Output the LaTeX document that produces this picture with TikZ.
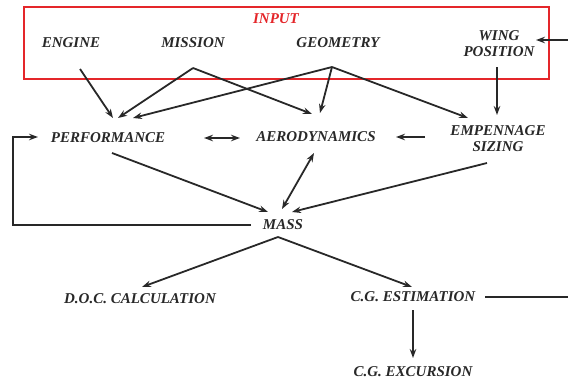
\documentclass[tikz,border=0pt]{standalone}
\usepackage{fontspec}
\setmainfont{Liberation Serif}
\usetikzlibrary{arrows.meta}
\definecolor{inred}{RGB}{228,38,42}
\definecolor{ink}{RGB}{40,40,40}
\tikzset{
  lbl/.style={font=\fontsize{15}{16}\selectfont\bfseries\itshape, text=ink, align=center, inner sep=1pt},
  tip/.style={},
  conn/.style={draw=ink, line width=1.8pt, -{Stealth[length=9pt,width=6.5pt]}},
  dconn/.style={draw=ink, line width=1.8pt, {Stealth[length=9pt,width=6.5pt]}-{Stealth[length=9pt,width=6.5pt]}},
  plain/.style={draw=ink, line width=1.8pt},
}
\begin{document}
\begin{tikzpicture}[x=1pt,y=-1pt]
\useasboundingbox (0,0) rectangle (568,380);
\draw[inred, line width=1.6pt] (24,7) rectangle (549,79);
\node[lbl, text=inred] (input) at (276,19) {INPUT};
\node[lbl] (engine) at (71,43) {ENGINE};
\node[lbl] (mission) at (193,43) {MISSION};
\node[lbl] (geometry) at (338,43) {GEOMETRY};
\node[lbl] (wing) at (499,44) {WING\\POSITION};
\node[lbl] (perf) at (108,138) {PERFORMANCE};
\node[lbl] (aero) at (316,137) {AERODYNAMICS};
\node[lbl] (emp) at (498,139) {EMPENNAGE\\SIZING};
\node[lbl] (mass) at (283,225) {MASS};
\node[lbl] (doc) at (140,299) {D.O.C. CALCULATION};
\node[lbl] (cge) at (413,297) {C.G. ESTIMATION};
\node[lbl] (cgx) at (413,372) {C.G. EXCURSION};

\coordinate (mis0) at (193,68);
\coordinate (geo0) at (332,67);
\coordinate (mass0) at (278,237);
\coordinate (rin) at (568,40);
\coordinate (win) at (536,40);
\coordinate (rout) at (568,297);

\draw[conn] (80,69) -- (113,118);
\draw[conn] (mis0) -- (118,118);
\draw[conn] (mis0) -- (312,114);
\draw[conn] (geo0) -- (133,118);
\draw[conn] (geo0) -- (320,113);
\draw[conn] (geo0) -- (468,118);
\draw[conn] (rin) -- (win);
\draw[conn] (497,67) -- (497,115);
\draw[dconn] (204,138) -- (240,138);
\draw[conn] (425,137) -- (396,137);
\draw[conn] (112,153) -- (268,212);
\draw[dconn] (314,153) -- (282,209);
\draw[conn] (487,163) -- (292,212);
\draw[conn] (251,225) -- (13,225) -- (13,137) -- (38,137);
\draw[conn] (mass0) -- (142,287);
\draw[conn] (mass0) -- (412,287);
\draw[plain] (485,297) -- (rout);
\draw[conn] (413,310) -- (413,358);
\end{tikzpicture}
\end{document}
